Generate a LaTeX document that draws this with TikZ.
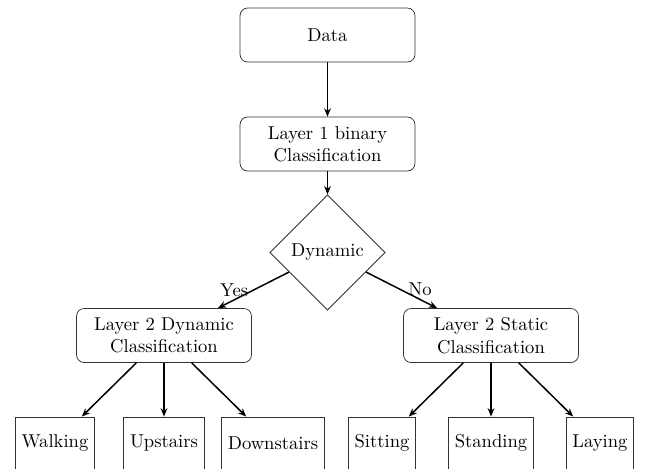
\documentclass[tikz,border=0pt]{standalone}
\usetikzlibrary{shapes.geometric,arrows.meta}
\begin{document}
\begin{tikzpicture}[x=0.5376pt,y=-0.5376pt,
  rbox/.style={draw=black!80, rounded corners=4pt, minimum width=94pt, minimum height=29pt, align=center, inner sep=3pt},
  dbox/.style={draw=black!80, diamond, aspect=1, minimum width=62pt, minimum height=62pt, inner sep=1pt},
  leaf/.style={draw=black!80, rectangle, minimum height=28pt, inner sep=3.33pt},
  conn/.style={thick,-{Stealth[length=4.5pt,width=3.6pt]}},
  lab/.style={inner sep=0pt}]
\useasboundingbox (0,0) rectangle (646,470);
\clip (0,0) rectangle (646,468.3);
\node[rbox] (data) at (327.5,35) {Data};
\node[rbox] (l1) at (327.5,144) {Layer 1 binary\\Classification};
\node[dbox] (dyn) at (327.5,252.5) {Dynamic};
\node[rbox] (l2d) at (164,335.5) {Layer 2 Dynamic\\Classification};
\node[rbox] (l2s) at (491,335.5) {Layer 2 Static\\Classification};
\node[leaf] (walk) at (55,443) {Walking};
\node[leaf] (up) at (164,443) {Upstairs};
\node[leaf] (down) at (273,443) {Downstairs};
\node[leaf] (sit) at (382,443) {Sitting};
\node[leaf] (stand) at (491,443) {Standing};
\node[leaf] (lay) at (600,443) {Laying};
\draw[conn] (data) -- (l1);
\draw[conn] (l1) -- (dyn);
\draw[conn] (dyn) -- node[lab, pos=0.77, yshift=5.4pt] {Yes} (l2d);
\draw[conn] (dyn) -- node[lab, pos=0.76, yshift=5.4pt] {No} (l2s);
\draw[conn] (l2d) -- (walk);
\draw[conn] (l2d) -- (up);
\draw[conn] (l2d) -- (down);
\draw[conn] (l2s) -- (sit);
\draw[conn] (l2s) -- (stand);
\draw[conn] (l2s) -- (lay);
\end{tikzpicture}
\end{document}
